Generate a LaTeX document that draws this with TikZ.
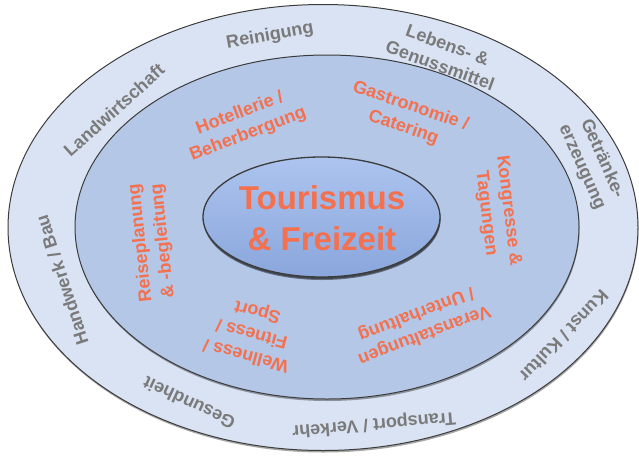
\documentclass[tikz,border=0pt]{standalone}
\usepackage{fontspec}
\setmainfont{Liberation Sans}
\usetikzlibrary{shapes.geometric,shadows}
\definecolor{ringOuter}{RGB}{218,227,243}
\definecolor{ringMid}{RGB}{180,199,231}
\definecolor{coreTop}{RGB}{172,196,238}
\definecolor{coreBot}{RGB}{138,166,220}
\definecolor{lineDark}{RGB}{60,60,60}
\definecolor{txtGray}{RGB}{122,122,122}
\definecolor{txtOrange}{RGB}{244,112,78}
\begin{document}
\begin{tikzpicture}[x=1pt,y=-1pt,
  ringshape/.style={ellipse, draw=lineDark, line width=1pt, inner sep=0pt, outer sep=0pt,
    drop shadow={shadow xshift=0.5pt, shadow yshift=-2pt, opacity=0.35, fill=black}},
  graytxt/.style={text=txtGray, font=\bfseries\fontsize{18}{22}\selectfont, align=center, inner sep=0pt},
  orangetxt/.style={text=txtOrange, font=\bfseries\fontsize{18}{22.5}\selectfont, align=center, inner sep=0pt},
  titletxt/.style={text=txtOrange, font=\bfseries\fontsize{33}{41}\selectfont, align=center, inner sep=0pt}
]
\useasboundingbox (0,0) rectangle (639,455);

% rings
\node[ringshape, fill=ringOuter, minimum width=630pt, minimum height=446pt] (outer) at (323,227.5) {};
\node[ringshape, fill=ringMid, minimum width=504pt, minimum height=344pt] (middle) at (327,227) {};
\node[ringshape, top color=coreTop, bottom color=coreBot, line width=1.3pt,
  drop shadow={shadow xshift=0.5pt, shadow yshift=-3pt, opacity=0.45, fill=black},
  minimum width=237pt, minimum height=120pt] (core) at (321.5,217) {};

% centre title
\node[titletxt] (title) at (322,218) {Tourismus\\\& Freizeit};

% outer ring labels
\node[graytxt, rotate=10] (reinigung) at (270,36) {Reinigung};
\node[graytxt, rotate=42] (landwirtschaft) at (114,110) {Landwirtschaft};
\node[graytxt, rotate=-20] (lebensmittel) at (444,55) {Lebens- \&\\Genussmittel};
\node[graytxt, rotate=-66] (getraenke) at (592,163) {Getränke-\\erzeugung};
\node[graytxt, rotate=226] (kunst) at (564,336) {Kunst / Kultur};
\node[graytxt, rotate=185] (transport) at (374,424) {Transport / Verkehr};
\node[graytxt, rotate=155] (gesundheit) at (189,403) {Gesundheit};
\node[graytxt, rotate=108] (handwerk) at (62,280) {Handwerk / Bau};

% middle ring labels
\node[orangetxt, rotate=21] (hotellerie) at (244,124) {Hotellerie /\\Beherbergung};
\node[orangetxt, rotate=-19] (gastronomie) at (407,117) {Gastronomie /\\Catering};
\node[orangetxt, rotate=-83] (kongresse) at (497,212) {Kongresse \&\\Tagungen};
\node[orangetxt, rotate=201] (veranstaltungen) at (420,324) {Veranstaltungen\\/ Unterhaltung};
\node[orangetxt, rotate=165] (wellness) at (252,333) {Wellness /\\Fitness /\\Sport};
\node[orangetxt, rotate=96] (reiseplanung) at (152,242) {Reiseplanung\\\& -begleitung};
\end{tikzpicture}
\end{document}
